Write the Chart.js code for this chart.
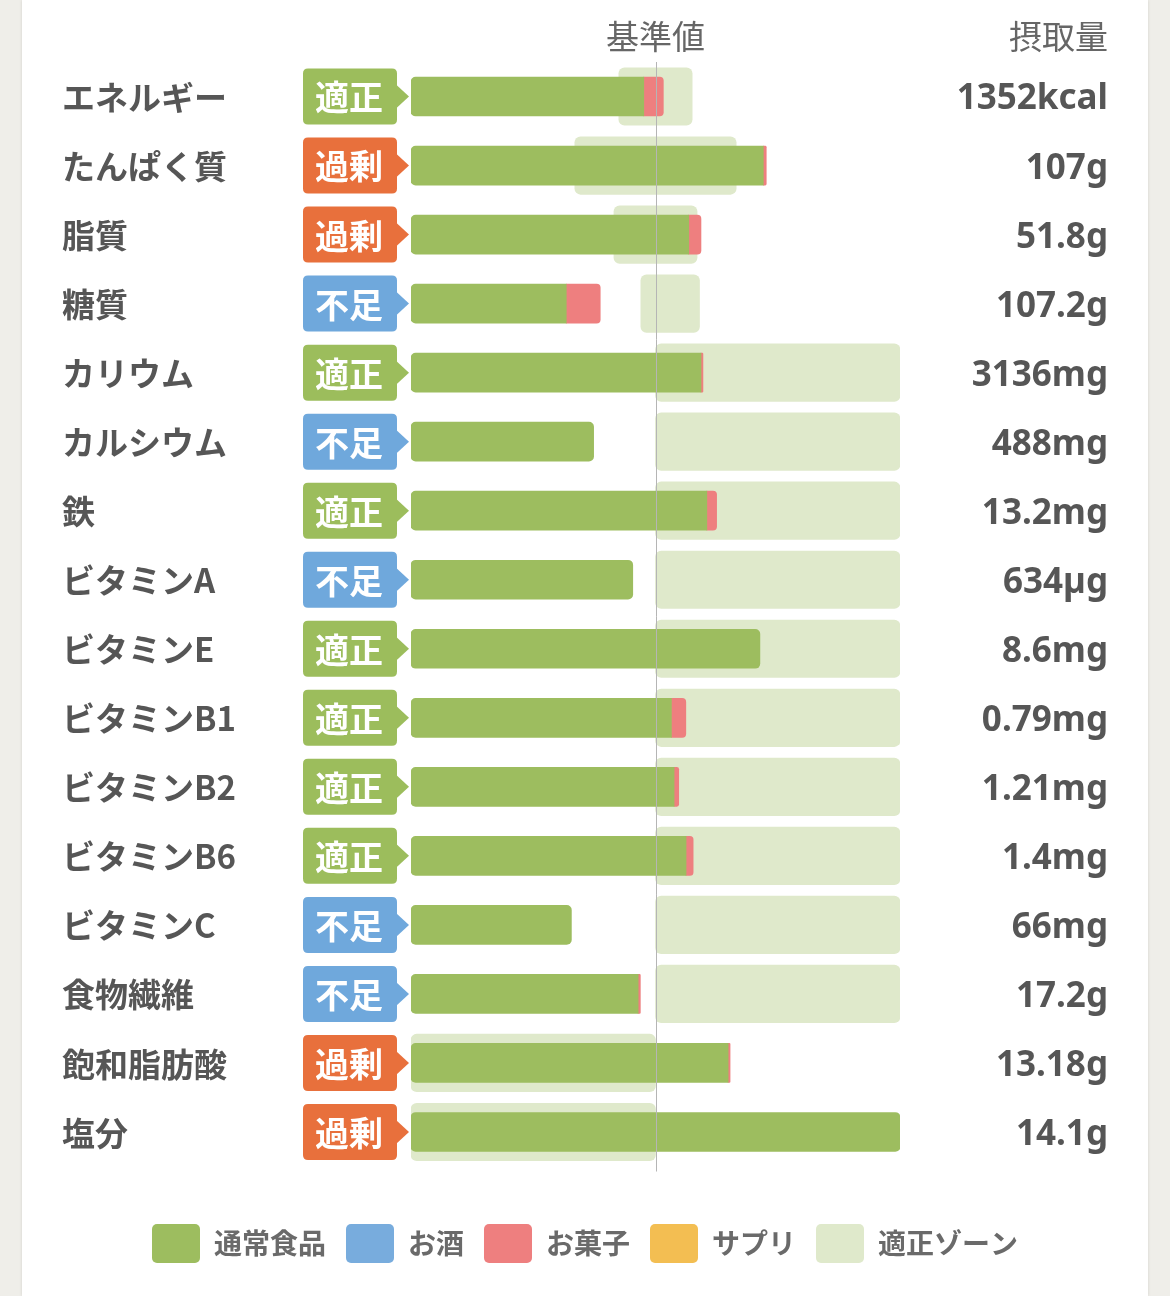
<!DOCTYPE html>
<html lang="ja">
<head>
<meta charset="utf-8">
<title>栄養素バランス</title>
<script src="https://cdn.jsdelivr.net/npm/chart.js@4.4.1/dist/chart.umd.min.js"></script>
<style>
  html, body { margin: 0; padding: 0; background: #efeee9; }
  .card { position: absolute; left: 22px; top: 0; width: 1126px; height: 1296px; background: #fff; box-shadow: 0 0 3px rgba(0,0,0,0.12); }
  .wrap { position: absolute; left: 0; top: 0; width: 1170px; height: 1296px; }
</style>
</head>
<body>
<div class="card"></div>
<div class="wrap"><canvas id="graficoNutrientes"></canvas></div>
<script>
// 栄養素ごとの値（基準値 = 100%）
const nutrientes = ["エネルギー", "たんぱく質", "脂質", "糖質", "カリウム", "カルシウム", "鉄", "ビタミンA",
  "ビタミンE", "ビタミンB1", "ビタミンB2", "ビタミンB6", "ビタミンC", "食物繊維", "飽和脂肪酸", "塩分"];
const avaliacao = ["適正", "過剰", "過剰", "不足", "適正", "不足", "適正", "不足",
  "適正", "適正", "適正", "適正", "不足", "不足", "過剰", "過剰"];
const ingestao = ["1352kcal", "107g", "51.8g", "107.2g", "3136mg", "488mg", "13.2mg", "634µg",
  "8.6mg", "0.79mg", "1.21mg", "1.4mg", "66mg", "17.2g", "13.18g", "14.1g"];

const comidaNormal = [95.2, 144.1, 113.6, 63.5, 118.6, 74.7, 121.0, 90.7, 142.7, 106.5, 107.6, 112.5, 65.6, 92.9, 129.7, 200];
const bebida = [0, 0, 0, 0, 0, 0, 0, 0, 0, 0, 0, 0, 0, 0, 0, 0];
const doces = [8.0, 1.2, 5.0, 13.9, 0.8, 0, 4.0, 0, 0, 5.9, 1.9, 2.9, 0, 0.9, 0.8, 0];
const suplementos = [0, 0, 0, 0, 0, 0, 0, 0, 0, 0, 0, 0, 0, 0, 0, 0];
const zonaMin = [85, 67, 83, 94, 100, 100, 100, 100, 100, 100, 100, 100, 100, 100, 0, 0];
const zonaMax = [115, 133, 117, 118, 200, 200, 200, 200, 200, 200, 200, 200, 200, 200, 100, 100];

const corVerde = '#9dbd5f';
const corAzul = '#78acdd';
const corVermelho = '#ee7f7f';
const corAmarelo = '#f3be52';
const corZona = '#dfe9cb';
const corBadge = { "適正": '#9cbd5c', "過剰": '#e8703c', "不足": '#6fa8dc' };

const fonte = '"Noto Sans CJK JP", "Noto Sans", sans-serif';
Chart.defaults.font.family = fonte;

// segmentos empilhados à mão (eixo x não empilhado): [início, fim]
function segmento(base, extra) {
  return base.map((v, i) => {
    const ini = comidaNormal[i] + v;
    return extra[i] > 0 ? [ini, ini + extra[i]] : null;
  });
}
const zerado = [0, 0, 0, 0, 0, 0, 0, 0, 0, 0, 0, 0, 0, 0, 0, 0];

function roundRect(ctx, x, y, w, h, r) {
  ctx.beginPath();
  ctx.moveTo(x + r, y);
  ctx.lineTo(x + w - r, y);
  ctx.quadraticCurveTo(x + w, y, x + w, y + r);
  ctx.lineTo(x + w, y + h - r);
  ctx.quadraticCurveTo(x + w, y + h, x + w - r, y + h);
  ctx.lineTo(x + r, y + h);
  ctx.quadraticCurveTo(x, y + h, x, y + h - r);
  ctx.lineTo(x, y + r);
  ctx.quadraticCurveTo(x, y, x + r, y);
  ctx.closePath();
}

// nomes, selos, linha de referência e valores de ingestão
const rotulos = {
  id: 'rotulos',
  afterDatasetsDraw(chart) {
    const { ctx, chartArea, scales: { x, y } } = chart;
    const xRef = x.getPixelForValue(100);
    ctx.save();
    ctx.strokeStyle = '#b5b5b5';
    ctx.lineWidth = 1;
    ctx.beginPath();
    ctx.moveTo(Math.round(xRef) + 0.5, chartArea.top);
    ctx.lineTo(Math.round(xRef) + 0.5, chartArea.bottom + 5);
    ctx.stroke();

    ctx.fillStyle = '#666';
    ctx.font = '400 33px ' + fonte;
    ctx.textBaseline = 'middle';
    ctx.textAlign = 'center';
    ctx.fillText('基準値', xRef, chartArea.top - 26);
    ctx.textAlign = 'right';
    ctx.fillText('摂取量', 1108, chartArea.top - 26);

    nutrientes.forEach((nome, i) => {
      const cy = y.getPixelForValue(i);
      ctx.fillStyle = '#565656';
      ctx.font = 'bold 33px ' + fonte;
      ctx.textAlign = 'left';
      ctx.fillText(nome, 62, cy + 1);

      ctx.font = 'bold 35px "Noto Sans", "Noto Sans CJK JP", sans-serif';
      ctx.textAlign = 'right';
      ctx.fillText(ingestao[i], 1108, cy + 3);

      const cor = corBadge[avaliacao[i]];
      ctx.fillStyle = cor;
      roundRect(ctx, 303, cy - 28, 94, 56, 5);
      ctx.fill();
      ctx.beginPath();
      ctx.moveTo(396, cy - 12);
      ctx.lineTo(409, cy);
      ctx.lineTo(396, cy + 12);
      ctx.closePath();
      ctx.fill();
      ctx.fillStyle = '#fff';
      ctx.font = 'bold 34px ' + fonte;
      ctx.textAlign = 'center';
      ctx.fillText(avaliacao[i], 349, cy + 1);
    });
    ctx.restore();
  }
};

const ctx = document.getElementById('graficoNutrientes').getContext('2d');
new Chart(ctx, {
  type: 'bar',
  data: {
    labels: nutrientes,
    datasets: [
      {
        label: '通常食品',
        data: comidaNormal,
        backgroundColor: corVerde,
        yAxisID: 'y',
        stack: 'um',
        barThickness: 39,
        borderWidth: 0,
        borderSkipped: false,
        borderRadius: (c) => {
          const r = doces[c.dataIndex] > 0 ? 0 : 5;
          return { topLeft: 5, bottomLeft: 5, topRight: r, bottomRight: r };
        },
        order: 1
      },
      {
        label: 'お酒',
        data: segmento(zerado, bebida),
        backgroundColor: corAzul,
        yAxisID: 'y',
        stack: 'um',
        barThickness: 39,
        borderWidth: 0,
        order: 1
      },
      {
        label: 'お菓子',
        data: segmento(bebida, doces),
        backgroundColor: corVermelho,
        yAxisID: 'y',
        stack: 'um',
        barThickness: 39,
        borderWidth: 0,
        borderSkipped: false,
        borderRadius: { topLeft: 0, bottomLeft: 0, topRight: 4, bottomRight: 4 },
        order: 1
      },
      {
        label: 'サプリ',
        data: segmento(bebida.map((v, i) => v + doces[i]), suplementos),
        backgroundColor: corAmarelo,
        yAxisID: 'y',
        stack: 'um',
        barThickness: 39,
        borderWidth: 0,
        order: 1
      },
      {
        label: '適正ゾーン',
        data: zonaMin.map((v, i) => [v, zonaMax[i]]),
        backgroundColor: corZona,
        yAxisID: 'y',
        stack: 'um',
        barThickness: 57.5,
        borderWidth: 0,
        borderSkipped: false,
        borderRadius: 6,
        order: 2
      }
    ]
  },
  options: {
    indexAxis: 'y',
    responsive: true,
    maintainAspectRatio: false,
    animation: false,
    layout: { padding: { top: 62, bottom: 23, left: 0, right: 0 } },
    scales: {
      x: {
        min: 0,
        max: 200,
        stacked: false,
        grid: { display: false },
        border: { display: false },
        ticks: { display: false },
        afterFit(s) { s.height = 37.5; }
      },
      y: {
        grid: { display: false },
        border: { display: false },
        ticks: { display: false },
        afterFit(s) { s.width = 411; }
      },
      yDireita: {
        type: 'category',
        axis: 'y',
        position: 'right',
        offset: true,
        grid: { display: false },
        border: { display: false },
        ticks: { display: false },
        afterFit(s) { s.width = 270; }
      }
    },
    plugins: {
      tooltip: { enabled: false },
      legend: {
        position: 'bottom',
        labels: {
          boxWidth: 48,
          boxHeight: 39,
          useBorderRadius: true,
          borderRadius: 5,
          padding: 20,
          color: '#6a6a6a',
          font: { size: 28, weight: 'bold', family: fonte }
        }
      }
    }
  },
  plugins: [rotulos]
});
</script>
</body>
</html>
